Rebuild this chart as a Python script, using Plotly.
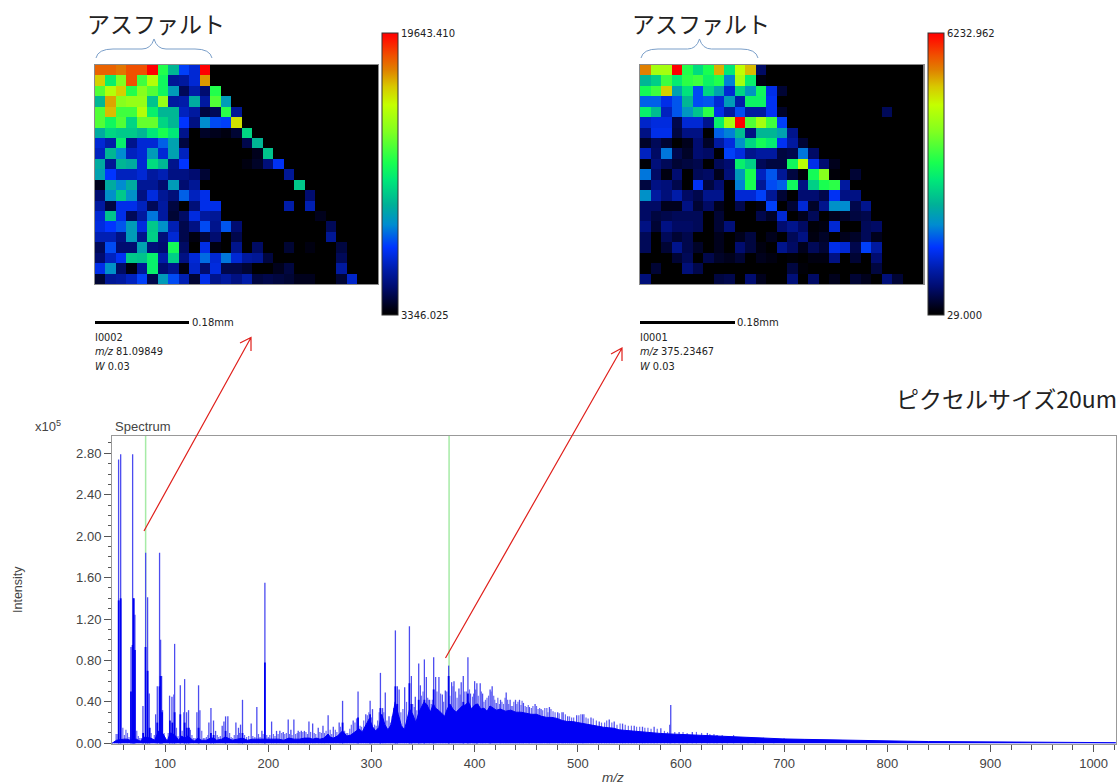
import plotly.graph_objects as go

W, H = 1120, 784
def X(p): return p / W
def Y(p): return 1 - p / H

# ---------- images (levels in percent of the colour range) ----------
LEFT_LO, LEFT_HI = 3346.025, 19643.410
RIGHT_LO, RIGHT_HI = 29.000, 6232.962

left_levels = [
 [90,90,88,92,92,100,55,40,25,20,100],
 [80,50,65,92,58,72,52,14,15,20,85],
 [60,72,80,55,66,60,52,35,8,16,10,55],
 [40,84,66,68,68,42,68,15,16,38,15,60,35],
 [60,82,58,58,72,50,40,40,18,15,6,8,56,14],
 [60,52,60,45,62,62,45,40,24,12,32,26,25,78],
 [38,45,43,43,40,48,54,48,13,0,4,3,2,5,45],
 [20,16,50,13,20,20,28,36,6,0,0,0,0,0,7,40],
 [18,40,32,18,20,35,20,36,18,0,0,0,0,0,0,3,42],
 [38,14,40,38,20,46,40,13,24,0,0,0,0,0,2,4,11,23],
 [36,24,18,18,20,15,17,12,12,10,5,0,0,0,0,0,0,0,14],
 [3,38,32,38,14,14,10,35,10,14,0,0,0,0,0,0,0,0,0,43],
 [10,33,43,33,12,21,14,11,28,18,22,0,0,0,0,0,0,0,0,0,10],
 [15,6,22,22,18,8,15,6,0,11,22,22,0,0,0,0,0,0,16,0,17],
 [20,42,22,8,15,30,15,5,9,21,15,14,0,0,0,0,0,0,0,0,0,3],
 [21,24,27,35,21,43,33,17,7,12,26,13,27,10,0,0,0,0,0,0,0,0,8],
 [17,17,12,35,13,44,11,20,7,2,6,10,0,7,0,0,0,0,0,0,0,0,14],
 [8,26,10,10,36,11,10,53,9,0,22,2,0,13,0,9,0,0,5,0,2,0,0,6],
 [10,18,23,43,42,50,16,44,12,20,29,20,30,20,15,14,6,0,0,0,0,0,0,8],
 [22,33,9,2,14,50,10,13,2,19,10,21,7,7,5,0,0,3,6,0,0,0,0,15],
 [5,14,15,18,25,7,35,26,17,5,22,13,15,12,16,6,7,6,5,3,3,0,0,5,19],
]

right_levels = [
 [87,70,70,100,55,46,54,83,48,74,82,9],
 [40,44,58,49,56,58,51,55,31,70,50,2],
 [53,58,80,36,47,26,45,36,20,45,34,52,22,5],
 [28,28,22,27,40,26,27,20,35,16,51,51,23],
 [50,41,18,27,34,42,56,22,15,26,15,15,23,4,0,0,0,0,0,0,0,0,0,8],
 [19,21,21,7,20,20,13,50,70,100,60,70,58,25],
 [12,22,22,6,12,12,0,28,31,41,12,40,40,36,13],
 [4,8,5,0,3,10,4,15,21,33,45,53,49,23,15,5],
 [18,9,30,7,4,10,9,0,25,21,13,15,15,6,7,30,9],
 [1,11,8,5,6,7,0,8,10,50,44,8,6,6,52,73,22,10,3],
 [30,9,2,10,0,8,9,3,11,35,54,18,27,14,6,1,53,66,1,0,5],
 [6,12,11,7,0,23,6,10,0,31,54,14,26,28,52,12,44,54,56,15],
 [33,15,11,16,9,7,13,13,0,20,20,25,14,5,0,10,10,7,23,12,12],
 [9,9,3,3,12,5,9,3,0,7,0,2,25,0,5,20,4,13,33,32,7,13],
 [9,6,7,8,8,8,0,5,0,0,0,7,4,20,0,3,8,0,3,4,6,7],
 [12,5,12,9,9,8,0,5,11,0,0,0,0,10,13,9,1,2,20,0,0,8,9],
 [8,0,8,5,7,0,0,3,0,3,6,0,3,0,8,12,2,4,0,3,4,8,3],
 [8,0,5,13,7,4,0,3,0,10,6,2,0,13,9,3,8,5,22,20,7,25,15],
 [0,0,0,5,8,0,7,4,3,5,0,3,2,0,1,0,2,2,12,0,5,0,10],
 [0,5,0,0,11,7,0,0,0,0,0,0,0,0,6,1,0,0,0,0,0,0,6],
 [11,0,0,0,0,0,0,6,7,0,10,3,0,0,11,0,9,0,3,0,5,3,0,11,5],
]

# ---------- spectrum (m/z, intensity in units of 1e5) ----------
envelope = [(48.5,0),(50,.01),(53,.03),(60,.04),(63,.04),(66,.03),(72,.04),(76,.02),(80,.06),(86,.05),(90,.03),(92,.08),(94,.12),(98,.09),(102,.02),(105,.10),(108,.09),(111,.06),(113,.03),(116,.07),(119,.05),(122,.07),(125,.04),(128,.02),(132,.05),(135,.03),(140,.03),(144,.05),(147,.05),(150,.03),(155,.04),(158,.06),(161,.05),(165,.03),(170,.04),(175,.05),(180,.03),(185,.04),(190,.04),(195,.04),(199,.04),(205,.04),(210,.04),(215,.03),(220,.05),(225,.04),(230,.04),(235,.05),
 (240,.05),(243,.04),(247,.05),(250,.04),(254,.05),(258,.09),(260,.06),(263,.05),(267,.07),(272,.12),(276,.07),(280,.08),(284,.11),(288,.14),(291,.11),(295,.18),(298,.24),(301,.16),(304,.12),(307,.15),(310,.28),(313,.18),(316,.13),(319,.18),(323,.40),(326,.28),(329,.17),(332,.13),(335,.25),(337,.33),(340,.28),(343,.20),(346,.30),(349,.36),(351,.40),(354,.37),(357,.30),(360,.38),(362,.34),(365,.32),(368,.29),(371,.26),(373,.32),(376,.38),(379,.33),(382,.30),(385,.33),(388,.36),(391,.37),(394,.40),(397,.33),(400,.37),(403,.38),(406,.33),(409,.34),(412,.31),(415,.36),(418,.34),(421,.32),(425,.33),(430,.31),(435,.32),(440,.30),(445,.30),(450,.29),(455,.28),(460,.28),(465,.26),(470,.25),(475,.25),(480,.24),(485,.22),(490,.21),(495,.21),(500,.20),(505,.19),(510,.18),(515,.175),(520,.16),(525,.155),(530,.15),(535,.145),(540,.13),(545,.125),(550,.125),(555,.115),(560,.11),(570,.10),(580,.095),(590,.09),(600,.085),(610,.08),(620,.075),(630,.07),(640,.065),(650,.06),(660,.055),(670,.05),(680,.05),(690,.045),(700,.042),(720,.038),(740,.033),(760,.03),(780,.027),(800,.023),(820,.02),(840,.017),(860,.015),(880,.013),(900,.012),(920,.01),(940,.009),(960,.008),(980,.007),(1000,.006),(1021.5,.006)]

core_peaks = [(55,1.38),(56.9,1.40),(66.9,.50),(68.5,.95),(69.5,1.40),(70.7,.90),(78.7,.10),(81,.93),(83,.70),(85,.15),(92.4,.20),(94.6,.55),(95.6,.65),(97,.30),(104.6,.22),(107,.20),(109.2,.30),(114.7,.28),(118.9,.20),(121,.15),(123,.15),(132.4,.15),(144.4,.10),(147,.08),(158.6,.12),(175,.10),(196.7,.78),(272,.20),(287,.25),(298.7,.28),(308.7,.34),(323.2,.55),(325,.38),(336.8,.58),(338.7,.38),(345.8,.42),(351.3,.42),(360.3,.52),(374.8,.65),(389,.40),(393.5,.48),(402.2,.38),(415,.36)]

main_peaks = [(54.9,2.74),(56.9,2.79),(66.9,.93),(68.5,2.79),(69.5,1.40),(70.7,1.24),(78.5,.36),(81.1,1.84),(83,1.41),(84.6,.48),(90.8,.28),(92.4,.55),(94.6,1.84),(95.6,1.00),(96.6,.65),(97.5,.32),(104.3,.46),(106.6,.45),(108.5,.47),(109.2,.96),(114.7,.56),(118.2,.30),(118.9,.62),(120.8,.30),(122.7,.32),(130.8,.30),(132.4,.56),(133.7,.32),(142.4,.20),(144.4,.34),(146.9,.22),(148.9,.12),(155.3,.17),(157,.21),(158.6,.26),(160.8,.26),(168.6,.20),(171.1,.15),(173.1,.18),(175,.42),(183.4,.19),(188.9,.35),(193.8,.12),(196.7,1.55),(203.2,.21),(208,.12),(211.2,.12),(214.5,.11),(219.3,.23),(221.9,.13),(224.8,.23),(229,.12),(232,.12),(235,.12),(239.4,.21),(243,.19),(248.4,.15),(253,.17),(258,.27),(263,.16),(268.7,.20),(272,.41),(282.3,.22),(287,.50),(294.5,.28),(298.7,.41),(301,.33),(308.7,.68),(310.8,.34),(313.4,.49),(317,.26),(323.2,1.09),(325.1,.55),(326.8,.52),(332.2,.54),(336.8,1.13),(338.7,.65),(342.5,.45),(345.8,.77),(347.4,.56),(351.3,.81),(353.2,.64),(356.4,.42),(360.3,.83),(362.2,.64),(365.4,.64),(368.7,.47),(371.6,.51),(374.8,.75),(377.7,.59),(380,.60),(384.8,.53),(387,.59),(389,.65),(393.5,.83),(396,.48),(400,.60),(402.2,.58),(405.4,.58),(407.7,.48),(415,.52),(417,.55),(420.9,.39),(425.1,.42),(430.6,.49),(434.4,.42),(439.6,.42),(443.5,.42),(447.3,.39),(453.1,.35),(458.6,.38),(464.4,.33),(472.5,.35),(480.5,.30),(484.7,.30),(490.2,.26),(498.9,.27),(504.7,.28),(512.8,.25),(520.8,.21),(530.5,.23),(535.3,.21),(543.4,.19),(554.7,.17),(562.7,.16),(574,.16),(580.5,.145),(589.2,.18),(590.1,.37),(598.2,.11),(611,.11),(625.6,.10),(635,.08)]

fine_peaks = [(51,.02),(52.5,.09),(53.5,.09),(59,.15),(60.5,.08),(62,.13),(63.5,.10),(65,.06),(72.5,.12),(74,.07),(75.5,.05),(77,.05),(86.5,.10),(88,.04),(89.5,.08),(99,.10),(100.5,.04),(102,.03),(103,.10),(111,.15),(112.5,.07),(116.5,.12),(124.5,.13),(126,.08),(127.5,.05),(129,.05),(135.5,.12),(137,.05),(138.5,.05),(140,.06),(141.5,.08),(150.5,.08),(152,.06),(153.5,.07),(162.5,.10),(164,.06),(165.5,.05),(167,.08),(170,.08),(172,.10),(177,.08),(179,.06),(181,.07),(185,.07),(187,.06),(190.5,.09),(192,.06),(195,.09),(198.5,.08),(200,.06),(201.5,.08),(205,.09),(206.5,.07),(209.5,.09),(213,.10),(216,.09),(217.5,.10),(220.5,.09),(223,.08),(226.5,.09),(228,.10),(230.5,.11),(233.5,.11),(236.5,.11),(238,.09),(241,.11),(244.5,.10),(246,.09),(250,.11),(251.5,.10),(254.5,.10),(256,.12),
 (260,.13),(261.5,.09),(265,.13),(266.5,.11),(270,.16),(274,.12),(275.5,.10),(277,.10),(279,.14),(280.5,.18),(284,.20),(285.5,.24),(289,.17),(290.5,.16),(292.5,.22),(296,.27),(297.5,.30),(300,.25),(303,.18),(304.5,.17),(306,.22),(307.5,.30),(312,.30),(315,.22),(318.5,.20),(320,.26),(321.5,.34),(328.5,.30),(330.5,.33),(334,.40),(340,.38),(341.5,.35),(344,.32),(348.5,.46),(350,.50),(354.5,.44),(355.5,.42),(358,.38),(359,.42),(363.5,.50),(367,.48),(370,.40),(373,.50),(376,.46),(379,.55),(381.5,.50),(383,.44),(386,.47),(390.5,.50),(392,.50),(395,.52),(398,.45),(399,.48),(401,.52),(403.5,.46),(406.5,.50),(409,.40),(410.5,.42),(412,.44),(413.5,.46),(416,.50),(418.5,.46),(419.5,.42),(422.5,.44),(424,.38),(426.5,.40),(428,.38),(429.5,.44),(432,.42),(433,.38),(435.5,.36),(437,.36),(438,.40),(441,.38),(442,.40),(445,.37),(446,.41),(449,.36),(450.5,.35),(452,.37),(455,.34),(456.5,.36),(460,.36),(461.5,.33),(463,.34),(466,.32),(468,.34),(470,.34),(471,.30),(474,.33),(476,.31),(478,.30),(482,.29),(486,.30),(488,.28),(492,.26),(494,.25),(496,.25),(501,.27),(503,.28),(506,.28),(508,.25),(510,.24),(515,.24),(518,.22),(523,.20),(526,.20),(528,.22),(533,.20),(538,.18),(541,.19),(546,.18),(549,.17),(552,.17),(557,.16),(560,.16),(565,.15),(568,.15),(571,.14),(577,.14),(584,.12),(587,.11),(594,.11),(602,.11),(606,.10),(615,.11),(620,.10),(628,.09),(632,.09),(640,.08),(645,.07),(651,.08),(658,.06),(665,.06),(672,.05),(680,.055),(690,.05),(700,.05)]

selected_mz = [81.09849, 375.23467]
y_ticks = [0.00,0.40,0.80,1.20,1.60,2.00,2.40,2.80]
x_ticks = [100,200,300,400,500,600,700,800,900,1000]

jet = [[0,"#000000"],[0.02,"#000010"],[0.10,"#000c70"],[0.16,"#001ca8"],[0.24,"#0034ff"],[0.32,"#008cd0"],
       [0.39,"#00b098"],[0.48,"#00e878"],[0.54,"#18ff50"],[0.65,"#80ff20"],[0.745,"#c4ff00"],
       [0.81,"#d8c800"],[0.87,"#e08000"],[0.92,"#f05000"],[0.98,"#ff1000"],[1,"#ff0000"]]

def grid(levels, lo, hi):
    out = []
    for r in levels:
        r = r + [0] * (27 - len(r))
        out.append([lo + (hi - lo) * v / 100 for v in r])
    return out

def stems(pts):
    sx, sy = [], []
    for a, b in pts:
        sx += [a, a, None]; sy += [0, b, None]
    return sx, sy

GREY = "#444444"
TXT = "DejaVu Sans"
fig = go.Figure()

def add_map(levels, lo, hi, xa, ya, cb_x, lo_txt, hi_txt):
    fig.add_trace(go.Heatmap(z=grid(levels, lo, hi), zmin=lo, zmax=hi, colorscale=jet, xaxis=xa, yaxis=ya,
        hoverinfo="skip",
        colorbar=dict(x=X(cb_x), xanchor="left", xpad=0, ypad=0, y=Y(315), yanchor="bottom",
                      len=282/H, lenmode="fraction", thickness=16, thicknessmode="pixels",
                      outlinecolor="#333333", outlinewidth=1, tickmode="array",
                      tickvals=[lo, hi], ticktext=[lo_txt, hi_txt], ticks="", ticklen=0,
                      tickfont=dict(family=TXT, size=10, color="#222222"))))

add_map(left_levels, LEFT_LO, LEFT_HI, "x", "y", 382, "3346.025", "19643.410")
add_map(right_levels, RIGHT_LO, RIGHT_HI, "x2", "y2", 928, "29.000", "6232.962")

for m in selected_mz:
    fig.add_trace(go.Scatter(x=[m, m], y=[0, 2.972], mode="lines", xaxis="x3", yaxis="y3",
                             line=dict(color="#a6eba6", width=1.5), hoverinfo="skip"))
fx, fy = stems(fine_peaks)
fig.add_trace(go.Scatter(x=fx, y=fy, mode="lines", xaxis="x3", yaxis="y3",
                         line=dict(color="#6a6af2", width=1.2), hoverinfo="skip"))
px, py = stems(main_peaks)
fig.add_trace(go.Scatter(x=px, y=py, mode="lines", xaxis="x3", yaxis="y3",
                         line=dict(color="#4c4cf0", width=1.3), hoverinfo="skip"))
cx, cy = stems(core_peaks)
fig.add_trace(go.Scatter(x=cx, y=cy, mode="lines", xaxis="x3", yaxis="y3",
                         line=dict(color="#0000f0", width=1.8), hoverinfo="skip"))
fig.add_trace(go.Scatter(x=[p[0] for p in envelope], y=[p[1] for p in envelope], mode="lines", fill="tozeroy",
                         fillcolor="#0000f5", xaxis="x3", yaxis="y3",
                         line=dict(color="#0000f5", width=1), hoverinfo="skip"))

map_axis = dict(showticklabels=False, ticks="", showgrid=False, zeroline=False,
                showline=True, mirror=True, linecolor="#8a8a8a", linewidth=1)
tick_font = dict(family="Liberation Sans", size=13, color=GREY)
fig.update_layout(
    width=W, height=H, margin=dict(l=0, r=0, t=0, b=0, autoexpand=False),
    paper_bgcolor="white", plot_bgcolor="white", showlegend=False,
    xaxis=dict(domain=[X(95), X(378)], range=[-0.5, 26.5], **map_axis),
    yaxis=dict(domain=[Y(284), Y(65)], range=[20.5, -0.5], **map_axis),
    xaxis2=dict(domain=[X(640), X(923.5)], range=[-0.5, 26.5], anchor="y2", **map_axis),
    yaxis2=dict(domain=[Y(284), Y(65)], range=[20.5, -0.5], anchor="x2", **map_axis),
    xaxis3=dict(domain=[X(112), X(1116)], range=[48.5, 1021.7], anchor="y3", tickmode="array", tickvals=x_ticks,
                ticks="outside", ticklen=7, tickcolor="#555555", tickfont=tick_font, showgrid=False, zeroline=False,
                showline=True, mirror=True, linecolor="#999999",
                minor=dict(tick0=0, dtick=20, ticks="outside", ticklen=5, tickcolor="#555555")),
    yaxis3=dict(domain=[Y(744), Y(435.5)], range=[-0.0068, 2.972], anchor="x3", tickmode="array", tickvals=y_ticks,
                tickformat=".2f", ticks="outside", ticklen=7, tickcolor="#555555", tickfont=tick_font,
                showgrid=False, zeroline=False, showline=True, mirror=True, linecolor="#999999",
                minor=dict(tick0=0, dtick=0.1, ticks="outside", ticklen=3, tickcolor="#555555")),
)

def note(x, y, text, size, family=TXT, color="#222222", anchor="left", angle=0):
    fig.add_annotation(x=X(x), y=Y(y), xref="paper", yref="paper", text=text, showarrow=False,
                       xanchor=anchor, yanchor="middle", textangle=angle, borderpad=0, borderwidth=0,
                       font=dict(family=family, size=size, color=color))

CJK = "Noto Sans CJK JP"
note(87, 23, "アスファルト", 23, CJK)
note(632, 23, "アスファルト", 23, CJK)
note(1117, 398, "ピクセルサイズ20um", 23, CJK, anchor="right")
for x0, a, b in [(95, "I0002", "<i>m/z</i> 81.09849"), (640, "I0001", "<i>m/z</i> 375.23467")]:
    note(x0, 337, a, 9.8)
    note(x0, 351, b, 9.8)
    note(x0, 366, "<i>W</i> 0.03", 9.8)
note(192, 322, "0.18mm", 10)
note(737, 322, "0.18mm", 10)
note(115, 426, "Spectrum", 13, "Liberation Sans", GREY)
note(35, 426, "x10<sup>5</sup>", 13, "Liberation Sans", GREY)
note(18, 590, "Intensity", 12.5, "Liberation Sans", GREY, anchor="center", angle=-90)
note(613, 777, "<i>m/z</i>", 13.5, "Liberation Sans", GREY, anchor="center")

def path(points):
    """points: SVG-like list of (cmd, x, y, ...) in page pixels"""
    s = []
    for p in points:
        cmd, vals = p[0], p[1:]
        c = [f"{X(v):.5f}" if i % 2 == 0 else f"{Y(v):.5f}" for i, v in enumerate(vals)]
        pairs = " ".join(f"{c[i]},{c[i+1]}" for i in range(0, len(c), 2))
        s.append(f"{cmd}{pairs}")
    return " ".join(s)

def brace(x0, x1):
    m = (x0 + x1) / 2
    fig.add_shape(type="path", xref="paper", yref="paper", line=dict(color="#7b9fc9", width=1),
                  path=path([("M", x0, 58), ("Q", x0+2, 49, x0+17, 49), ("L", m-12, 49), ("Q", m-3, 49, m, 39),
                             ("Q", m+3, 49, m+12, 49), ("L", x1-17, 49), ("Q", x1-2, 49, x1, 58)]))
brace(96, 212)
brace(641, 758)

def bar(x0, x1):
    fig.add_shape(type="line", xref="paper", yref="paper", x0=X(x0), x1=X(x1), y0=Y(322.5), y1=Y(322.5),
                  line=dict(color="black", width=3))
bar(95, 189)
bar(640, 735)

def arrow(x0, y0, x1, y1, bx0, by0, bx1, by1):
    fig.add_shape(type="path", xref="paper", yref="paper", line=dict(color="#e0201c", width=1.2),
                  path=path([("M", x0, y0), ("L", x1, y1), ("M", bx0, by0), ("L", x1, y1), ("L", bx1, by1)]))
arrow(144, 531, 251, 337.5, 240, 343, 251, 351)
arrow(445.5, 658, 622, 348, 611, 354, 622, 361)

fig.write_html("out.html", config={"displayModeBar": False},
               post_script="document.body.style.margin='0';document.documentElement.style.overflow='hidden';")
